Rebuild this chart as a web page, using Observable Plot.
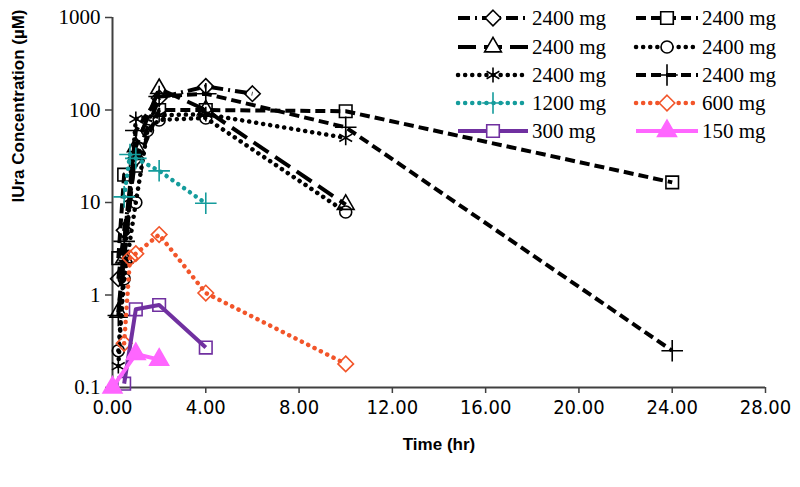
<!DOCTYPE html>
<html><head><meta charset="utf-8">
<script src="https://cdn.jsdelivr.net/npm/d3@7"></script>
<script src="https://cdn.jsdelivr.net/npm/@observablehq/plot@0.6"></script>
<style>body{margin:0;background:#fff}</style>
</head><body><div id="chart"></div>
<script>
// ---- data (time in hr, concentration in µM) ----
const labels = ["2400 mg","2400 mg","2400 mg","2400 mg","2400 mg","2400 mg","1200 mg","600 mg","300 mg","150 mg"];
const sA = [[0.25,1.5],[0.5,5],[1,30],[2,135],[4,180],[6,150]];            // diamond, dash-dot
const sB = [[0.25,2.5],[0.5,20],[1,25],[2,100],[4,100],[10,97],[24,16.5]]; // square, dashed
const sC = [[0.25,0.65],[0.5,2.5],[1,40],[2,170],[4,100],[10,9.5]];        // triangle, long dash
const sD = [[0.25,0.25],[0.5,1.5],[1,10],[1.5,60],[2,78],[4,82],[10,7.9]]; // circle, dotted
const sE = [[0.25,0.17],[0.5,2.4],[0.75,11],[1,80],[2,88],[4,90],[10,50]]; // asterisk, dotted
const sF = [[0.25,0.6],[0.5,3.8],[1,60],[2,140],[4,150],[10,65],[24,0.25]]; // plus, dashed
const sG = [[0.5,11.5],[0.75,33],[1,30],[2,22],[4,9.8]];                   // 1200 mg
const sH = [[0.5,0.3],[0.75,2.5],[1,2.8],[2,4.5],[4,1.05],[10,0.18]];      // 600 mg
const sI = [[0.5,0.11],[1,0.7],[2,0.78],[4,0.27]];                          // 300 mg
const sJ = [[0,0.1],[1,0.23],[2,0.2]];                                       // 150 mg
const xTicks = [0,4,8,12,16,20,24,28];
const yTicks = [0.1,1,10,100,1000];

const styles = [
  {pts:sA, stroke:"#000", dash:"12 5 2 5", cap:"butt", sym:"diamond2", fill:"none", r:7},
  {pts:sB, stroke:"#000", dash:"10 5", cap:"butt", sym:"square2", fill:"none", r:8},
  {pts:sC, stroke:"#000", dash:"18 8", cap:"butt", sym:"triangle2", fill:"none", r:8},
  {pts:sD, stroke:"#000", dash:"0.1 7", cap:"round", sym:"circle", fill:"none", r:6},
  {pts:sE, stroke:"#000", dash:"0.1 7", cap:"round", sym:"asterisk", fill:"none", r:7},
  {pts:sF, stroke:"#000", dash:"10 5", cap:"butt", sym:"plus", fill:"none", r:7},
  {pts:sG, stroke:"#159c9c", dash:"0.1 7", cap:"round", sym:"plus", fill:"none", r:7},
  {pts:sH, stroke:"#f2552a", dash:"0.1 7", cap:"round", sym:"diamond2", fill:"none", r:7},
  {pts:sI, stroke:"#7030a0", dash:null, cap:"butt", sym:"square2", fill:"none", r:8},
  {pts:sJ, stroke:"#ff66ff", dash:null, cap:"butt", sym:"triangle", fill:"#ff66ff", r:7}
];

const marks = [
  Plot.axisX({ticks:xTicks, tickFormat:d=>d.toFixed(2), tickSize:6, tickPadding:6, stroke:"#404040", strokeWidth:1.5,
    fontFamily:"Liberation Sans Narrow, DejaVu Sans Condensed, sans-serif", fontSize:20, fill:"#000", label:null}),
  Plot.axisY({ticks:yTicks, tickFormat:d=>String(d), tickSize:7, tickPadding:5, stroke:"#404040", strokeWidth:1.5,
    fontFamily:"Liberation Serif, serif", fontSize:21, fill:"#000", label:null}),
  Plot.ruleY([0.1], {stroke:"#404040", strokeWidth:2}),
  Plot.ruleX([0], {stroke:"#404040", strokeWidth:2}),
];
styles.forEach(s => {
  marks.push(Plot.line(s.pts, {x:d=>d[0], y:d=>d[1], stroke:s.stroke, strokeWidth:s.cap==="round"?4.5:4,
    strokeDasharray:s.dash || undefined, strokeLinecap:s.cap, strokeLinejoin:"round"}));
  marks.push(Plot.dot(s.pts, {x:d=>d[0], y:d=>d[1], symbol:s.sym, r:s.r, stroke:s.stroke,
    fill:s.fill, strokeWidth:1.6}));
});
marks.push(Plot.text(["Time (hr)"], {frameAnchor:"bottom", dy:62, fontFamily:"Liberation Sans, sans-serif",
  fontSize:17, fontWeight:"bold", fill:"#000"}));
marks.push(Plot.text(["IUra Concentration (µM)"], {frameAnchor:"left", dx:-94, rotate:-90,
  fontFamily:"Liberation Sans, sans-serif", fontSize:17, fontWeight:"bold", fill:"#000"}));

const chart = Plot.plot({
  width:800, height:487, marginLeft:112, marginRight:35, marginTop:17, marginBottom:100,
  style:{background:"#fff", overflow:"visible"},
  x:{domain:[0,28]},
  y:{type:"log", domain:[0.1,1000]},
  marks
});
document.getElementById("chart").append(chart);

// ---- legend ----
const svg = d3.select(chart);
const lg = svg.append("g").attr("class","legend").attr("text-anchor","start")
  .style("font-family","'Liberation Serif', 'Times New Roman', serif").style("font-size","21px");
const cols = [{x0:458, x1:528, tx:532}, {x0:636, x1:698, tx:702}];
const rowY = [18,47,75,103,131];
const symMap = {diamond2:d3.symbolDiamond2, square2:d3.symbolSquare2, triangle2:d3.symbolTriangle2,
  circle:d3.symbolCircle, asterisk:d3.symbolAsterisk, plus:d3.symbolPlus, triangle:d3.symbolTriangle};
styles.forEach((s,i) => {
  const c = cols[i%2], y = rowY[Math.floor(i/2)];
  lg.append("line").attr("x1",c.x0).attr("x2",c.x1).attr("y1",y).attr("y2",y)
    .attr("stroke",s.stroke).attr("stroke-width",s.cap==="round"?4.5:4).attr("stroke-linecap",s.cap)
    .attr("stroke-dasharray",s.dash);
  lg.append("path").attr("transform",`translate(${(c.x0+c.x1)/2},${y})`)
    .attr("d", d3.symbol(symMap[s.sym], s.r*s.r*Math.PI)())
    .attr("fill", s.fill==="none" ? "#fff" : s.fill).attr("stroke",s.stroke).attr("stroke-width",1.6);
  lg.append("text").attr("x",c.tx).attr("y",y+7).text(labels[i])
    .style("font-family","'Liberation Serif', 'Times New Roman', serif").style("font-size","21px")
    .style("text-anchor","start").attr("fill","#000");
});
</script></body></html>
